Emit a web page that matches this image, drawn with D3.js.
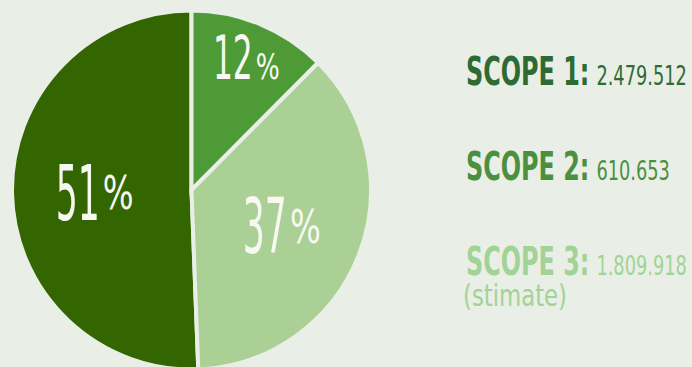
<!DOCTYPE html>
<html>
<head>
<meta charset="utf-8">
<script src="https://cdn.jsdelivr.net/npm/d3@7"></script>
<style>
  html, body { margin: 0; padding: 0; background: #e9efe6; overflow: hidden; }
  svg { display: block; }
</style>
</head>
<body>
<div class="chart"></div>
<script>
const WIDTH = 692;
const HEIGHT = 367;
const CX = 191.5;
const CY = 190;
const RADIUS = 179.5;
const FONT = '"DejaVu Sans Condensed", "Liberation Sans", sans-serif';

const names = ['SCOPE 1', 'SCOPE 2', 'SCOPE 3'];
const values = [2479512, 610653, 1809918];
const notes = ['', '', '(stimate)'];
const sliceColors = ['#336600', '#4e9a36', '#abd095'];
const textColors = ['#2e6b34', '#4b9040', '#a2d396'];

var total = d3.sum(values);
var fmt = d3.formatLocale({decimal: ',', thousands: '.', grouping: [3], currency: ['', '']}).format(',d');

var svg = d3.select('.chart').append('svg')
  .attr('width', WIDTH)
  .attr('height', HEIGHT);

svg.append('rect')
  .attr('width', WIDTH)
  .attr('height', HEIGHT)
  .attr('fill', '#e9efe6');

// scope 1 ends at the top, scope 2 and 3 follow clockwise
var a1 = 2 * Math.PI * values[0] / total;
var pie = d3.pie().sort(null).startAngle(-a1).endAngle(2 * Math.PI - a1);
var arcs = pie(values);

var arc = d3.arc().innerRadius(0).outerRadius(RADIUS);

var g = svg.append('g').attr('transform', 'translate(' + CX + ',' + CY + ')');

g.selectAll('path')
  .data(arcs)
  .enter().append('path')
  .attr('d', arc)
  .attr('fill', function (d, i) { return sliceColors[i]; })
  .attr('stroke', '#e9efe6')
  .attr('stroke-width', 4)
  .attr('stroke-linejoin', 'miter');

// append a text squeezed horizontally by k, returns it with its width
var narrowText = function (parent, str, size, k, fill, weight) {
  var t = parent.append('text')
    .attr('font-family', FONT)
    .attr('font-size', size)
    .attr('font-weight', weight || 'normal')
    .attr('fill', fill)
    .text(str);
  t.w = t.node().getComputedTextLength() * k;
  t.k = k;
  return t;
};
var place = function (t, x, y) {
  t.attr('transform', 'translate(' + x + ',' + y + ') scale(' + t.k + ',1)');
};

arcs.forEach(function (d, i) {
  var small = (d.endAngle - d.startAngle) < 1;
  var lr = small ? RADIUS * 0.8 : RADIUS * 0.54;
  var c = d3.arc().innerRadius(lr).outerRadius(lr).centroid(d);
  var size = small ? 60 : 77;
  var raise = small ? 0 : size * 0.14;
  var pct = Math.round(values[i] / total * 100);

  var lg = g.append('g').attr('transform', 'translate(' + c[0] + ',' + c[1] + ')');
  var num = narrowText(lg, pct, size, small ? 0.58 : 0.5, '#f6f8f1');
  var sign = narrowText(lg, '%', size * 0.6, 0.78, '#f6f8f1');
  var gap = 3;
  var x0 = -(num.w + gap + sign.w) / 2;
  var base = size * 0.729 / 2;
  place(num, x0, base);
  place(sign, x0 + num.w + gap, base - raise);
});

// legend
var legend = svg.append('g');
names.forEach(function (name, i) {
  var y = 85 + i * 95;
  var label = narrowText(legend, name + ':', 38.5, 0.69, textColors[i], 'bold');
  place(label, 466, y);
  var val = narrowText(legend, fmt(values[i]), 26, 0.76, textColors[i]);
  place(val, 466 + label.w + 7, y);
  if (notes[i]) {
    var note = narrowText(legend, notes[i], 30, 1, textColors[i]);
    note.k = 104 / note.w;
    place(note, 463, y + 31);
  }
});
</script>
</body>
</html>
